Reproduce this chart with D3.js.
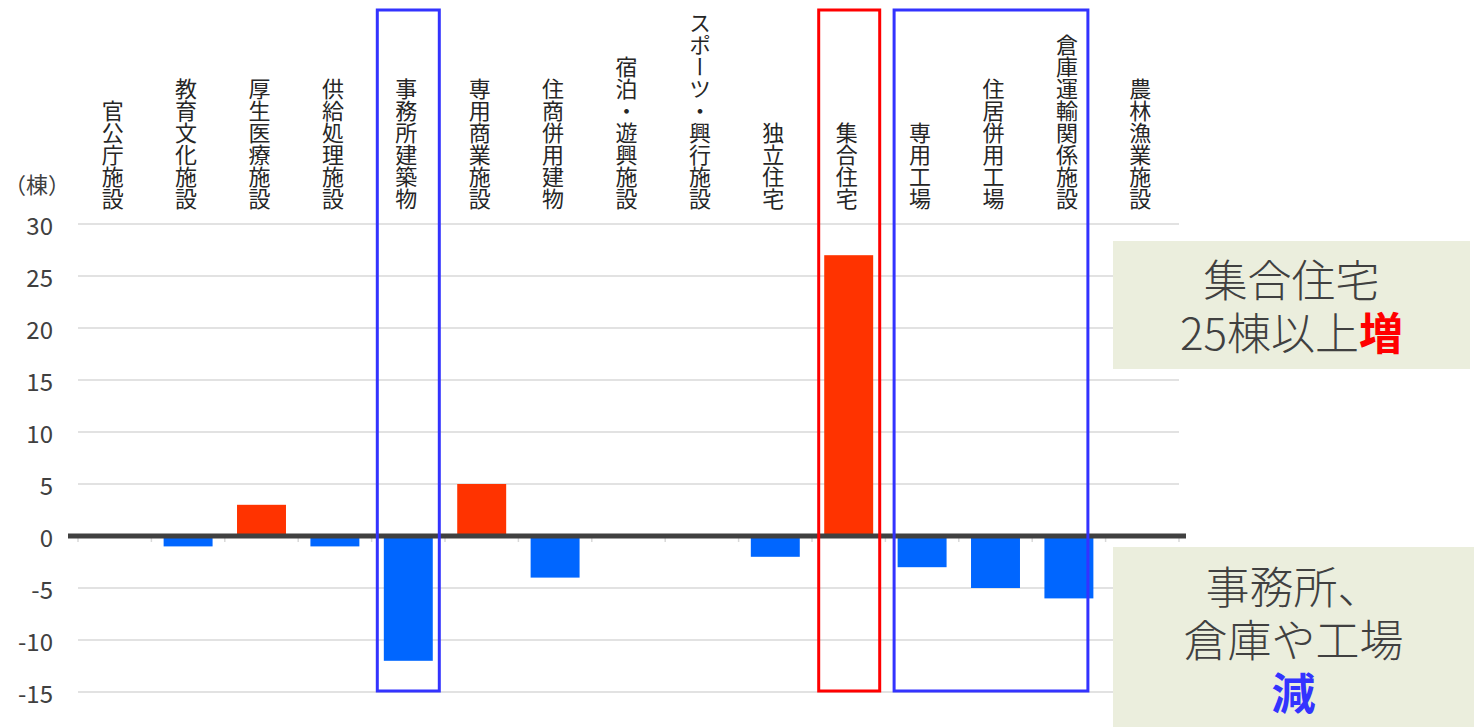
<!DOCTYPE html>
<html><head><meta charset="utf-8">
<script src="https://cdn.jsdelivr.net/npm/d3@7"></script>
<style>
html,body{margin:0;padding:0;background:#fff;}
text{font-family:"Noto Sans CJK JP","Noto Sans",sans-serif;}
</style></head>
<body>
<svg id="chart" width="1474" height="727"></svg>
<script>
const categories = ["官公庁施設","教育文化施設","厚生医療施設","供給処理施設","事務所建築物","専用商業施設","住商併用建物","宿泊・遊興施設","スポーツ・興行施設","独立住宅","集合住宅","専用工場","住居併用工場","倉庫運輸関係施設","農林漁業施設"];
const values = [0,-1,3,-1,-12,5,-4,0,0,-2,27,-3,-5,-6,0];
const yTicks = [30,25,20,15,10,5,0,-5,-10,-15];
const unitLabel = "（棟）";
const noteUp = ["集合住宅","25棟以上","増"];
const noteDown = ["事務所、","倉庫や工場","減"];

const svg = d3.select("#chart");
const x = d3.scaleBand().domain(categories).range([78,1179]).paddingInner(0.333).paddingOuter(0.1665);
const y = d3.scaleLinear().domain([-15,30]).range([692,224]);
const step = x.step();
const x0 = 78;

// gridlines
svg.append("g").selectAll("line").data(yTicks).join("line")
  .attr("x1",78).attr("x2",1179)
  .attr("y1",d=>y(d)).attr("y2",d=>y(d))
  .attr("stroke","#d9d9d9").attr("stroke-width",1.5);

// y labels
svg.append("g").selectAll("text").data(yTicks).join("text")
  .attr("x",53).attr("y",d=>y(d)).attr("text-anchor","end").attr("dominant-baseline","central")
  .attr("font-size",24).attr("fill","#404040").text(d=>d);

svg.append("text").attr("x",37).attr("y",193).attr("text-anchor","middle")
  .attr("font-size",22).attr("fill","#404040").text(unitLabel);

// bars
svg.append("g").selectAll("rect").data(categories).join("rect")
  .attr("x",d=>x(d)).attr("width",x.bandwidth())
  .attr("y",(d,i)=>y(Math.max(0,values[i])))
  .attr("height",(d,i)=>Math.abs(y(values[i])-y(0)))
  .attr("fill",(d,i)=>values[i]>=0?"#ff3300":"#0066ff");

// tick marks below axis at band boundaries
svg.append("g").selectAll("line").data(d3.range(categories.length+1)).join("line")
  .attr("x1",i=>x0+i*step).attr("x2",i=>x0+i*step)
  .attr("y1",y(0)+2).attr("y2",y(0)+6)
  .attr("stroke","#d9d9d9").attr("stroke-width",1.5);

// zero axis
svg.append("line").attr("x1",68).attr("x2",1186).attr("y1",y(0)).attr("y2",y(0))
  .attr("stroke","#404040").attr("stroke-width",5);

// category labels (vertical)
svg.append("g").selectAll("text").data(categories).join("text")
  .attr("x",d=>x(d)+x.bandwidth()/2-2).attr("y",210)
  .attr("text-anchor","end")
  .style("writing-mode","vertical-rl")
  .attr("font-size",22).attr("fill","#262626").text(d=>d);

// highlight frames
const cx = d=>x(d)+x.bandwidth()/2;
function frame(x1,x2,color){
  svg.append("rect").attr("x",x1).attr("y",10).attr("width",x2-x1).attr("height",y(-15)-1-10)
    .attr("fill","none").attr("stroke",color).attr("stroke-width",3);
}
frame(cx(categories[4])-31, cx(categories[4])+31, "#3333ff");
frame(cx(categories[10])-30, cx(categories[10])+31, "#ff0000");
frame(cx(categories[11])-28, cx(categories[13])+19, "#3333ff");

// annotation boxes (one multi-line text element each)
function note(bx,by,bw,bh,lines,accent,accentColor,firstY){
  svg.append("rect").attr("x",bx).attr("y",by).attr("width",bw).attr("height",bh).attr("fill","#ebeedd");
  const t = svg.append("text").attr("x",bx+bw/2).attr("y",firstY).attr("text-anchor","middle")
    .attr("dominant-baseline","central").attr("font-size",44).attr("font-weight",300).attr("fill","#404040");
  lines.forEach((l,i)=>{
    const line = t.append("tspan").attr("x",bx+bw/2).attr("dy",i===0?0:53);
    if(l) line.append("tspan").text(l);
    if(accent[i]) line.append("tspan").attr("font-weight",700).attr("fill",accentColor).text(accent[i]);
  });
}
note(1113,241,357,128,[noteUp[0],noteUp[1]],[null,noteUp[2]],"#ff0000",278);
note(1113,547,361,185,[noteDown[0],noteDown[1],null],[null,null,noteDown[2]],"#3333ff",585);
</script>
</body></html>
